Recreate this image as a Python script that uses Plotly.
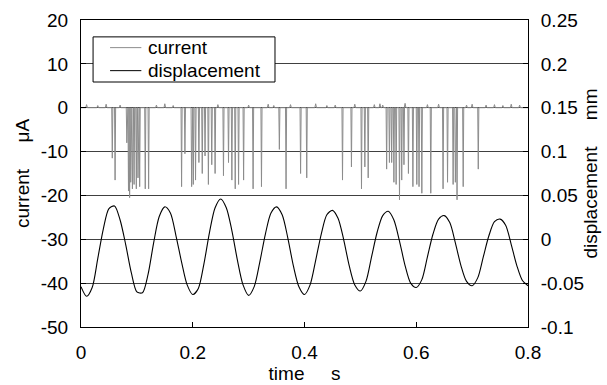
import plotly.graph_objects as go

# ---------------- data ----------------
# displacement (mm), sampled every 0.01 s
disp_t = [round(i * 0.01, 2) for i in range(81)]
disp_mm = [
    -0.054, -0.065, -0.055, -0.022, 0.012, 0.035, 0.038, 0.022, -0.006, -0.038,
    -0.060, -0.061, -0.040, -0.004, 0.026, 0.037, 0.030, 0.004, -0.026, -0.052,
    -0.063, -0.056, -0.028, 0.008, 0.036, 0.046, 0.036, 0.010, -0.024, -0.052,
    -0.064, -0.054, -0.026, 0.006, 0.030, 0.037, 0.028, 0.002, -0.030, -0.054,
    -0.063, -0.052, -0.024, 0.006, 0.028, 0.033, 0.024, 0.000, -0.030, -0.052,
    -0.059, -0.048, -0.020, 0.008, 0.027, 0.032, 0.022, -0.002, -0.030, -0.050,
    -0.055, -0.046, -0.020, 0.006, 0.023, 0.027, 0.019, -0.004, -0.030, -0.048,
    -0.053, -0.044, -0.020, 0.004, 0.020, 0.023, 0.016, -0.006, -0.030, -0.047,
    -0.053,
]

# current (uA): baseline level plus downward spikes
current_baseline = 0.0
spike_t = [
    0.056, 0.061, 0.082, 0.085, 0.087, 0.089, 0.092, 0.095, 0.099, 0.102, 0.105, 0.115, 0.121,
    0.180, 0.186, 0.198, 0.201, 0.205, 0.211, 0.217, 0.222, 0.228, 0.234, 0.240,
    0.255, 0.264, 0.270, 0.276, 0.282, 0.291,
    0.308, 0.323, 0.355, 0.367, 0.393, 0.404,
    0.468, 0.484, 0.502, 0.508, 0.514,
    0.547, 0.552, 0.556, 0.560, 0.564, 0.570, 0.574, 0.578, 0.586, 0.594, 0.601, 0.605, 0.610,
    0.626, 0.648, 0.656, 0.666, 0.670, 0.673, 0.684, 0.711,
]
spike_uA = [
    -11.5, -16.5, -8.0, -19.0, -20.5, -17.0, -18.5, -17.5, -18.5, -16.0, -18.0, -18.5, -18.5,
    -18.0, -10.5, -18.0, -17.5, -16.5, -12.5, -15.0, -11.0, -17.5, -13.0, -15.0,
    -15.5, -12.5, -16.5, -18.5, -17.5, -16.5,
    -18.5, -18.0, -9.5, -18.5, -15.0, -16.0,
    -16.5, -13.5, -18.5, -13.5, -16.0,
    -14.0, -12.5, -12.5, -17.0, -17.5, -21.0, -16.5, -13.0, -15.0, -18.0, -17.5, -18.0, -19.5,
    -19.5, -18.5, -17.0, -17.5, -17.0, -21.0, -18.0, -14.0,
]
ripple_t = [0.01, 0.03, 0.045, 0.07, 0.135, 0.15, 0.165, 0.245, 0.3, 0.335, 0.345,
            0.375, 0.42, 0.44, 0.455, 0.49, 0.525, 0.535, 0.54, 0.58, 0.62, 0.64,
            0.69, 0.7, 0.725, 0.74, 0.755, 0.77, 0.785]
ripple_uA = [0.7, 0.5, 0.8, 0.6, 0.6, 0.9, 0.5, 0.7, 0.6, 0.8, 0.5,
             0.7, 0.9, 0.5, 0.6, 0.8, 0.7, 0.9, 0.6, 1.0, 0.7, 0.8,
             0.6, 0.8, 0.6, 0.7, 0.5, 0.8, 0.6]

series_names = ["current", "displacement"]
series_colors = ["#8c8c8c", "black"]

# build current trace
events = [(t, v, 0.0010) for t, v in zip(spike_t, spike_uA)] + \
         [(t, current_baseline + v, 0.0015) for t, v in zip(ripple_t, ripple_uA)]
events.sort()
cur_x, cur_y = [0.0], [current_baseline]
for t, v, w in events:
    cur_x += [t - w, t, t + w]
    cur_y += [current_baseline, v, current_baseline]
cur_x.append(0.8)
cur_y.append(current_baseline)

x_ticks = [0, 0.2, 0.4, 0.6, 0.8]
y1_ticks = [-50, -40, -30, -20, -10, 0, 10, 20]
y2_ticks = [-0.1, -0.05, 0, 0.05, 0.1, 0.15, 0.2, 0.25]

FONT = "Liberation Sans, Arial, sans-serif"
SP = "\u00a0"

fig = go.Figure()
fig.add_trace(go.Scatter(
    x=cur_x, y=cur_y, mode="lines", name=series_names[0], showlegend=False,
    line=dict(color=series_colors[0], width=1), yaxis="y"))
fig.add_trace(go.Scatter(
    x=disp_t, y=disp_mm, mode="lines", name=series_names[1], showlegend=False,
    line=dict(color=series_colors[1], width=1.1, shape="spline", smoothing=0.8), yaxis="y2"))

# compact boxed legend (paper coordinates: plot area spans 0..1)
shapes = [dict(type="rect", xref="paper", yref="paper",
               x0=0.027, x1=0.434, y0=0.798, y1=0.945,
               line=dict(color="black", width=1), fillcolor="white", layer="above")]
annotations = []
for i, (nm, col) in enumerate(zip(series_names, series_colors)):
    yy = 0.910 - i * 0.075
    shapes.append(dict(type="line", xref="paper", yref="paper",
                       x0=0.065, x1=0.135, y0=yy, y1=yy,
                       line=dict(color=col, width=1), layer="above"))
    annotations.append(dict(text=nm, xref="paper", yref="paper", x=0.146, y=yy,
                            xanchor="left", yanchor="middle", showarrow=False,
                            font=dict(size=19, family=FONT, color="black")))

fig.update_layout(
    width=607, height=385,
    margin=dict(l=81, r=79, t=20, b=58, autoexpand=False),
    paper_bgcolor="white", plot_bgcolor="white",
    font=dict(family=FONT, size=19, color="black"),
    showlegend=False,
    shapes=shapes, annotations=annotations,
    xaxis=dict(range=[0, 0.8], tickvals=x_ticks,
               ticktext=[f"{v:g}" for v in x_ticks],
               ticks="inside", ticklen=5, tickcolor="black",
               ticklabelstandoff=8, automargin=False,
               showline=True, linecolor="black", linewidth=1, mirror=True,
               showgrid=False, zeroline=False,
               title=dict(text="time" + SP * 5 + "s", font=dict(size=19), standoff=2)),
    yaxis=dict(range=[-50, 20], tickvals=y1_ticks,
               ticktext=[str(v) for v in y1_ticks],
               ticks="inside", ticklen=5, tickcolor="black",
               ticklabelstandoff=8, automargin=False,
               showline=True, linecolor="black", linewidth=1,
               showgrid=True, gridcolor="#404040", gridwidth=1, zeroline=False,
               title=dict(text="current" + SP * 5 + "\u03bcA", font=dict(size=19), standoff=6)),
    yaxis2=dict(range=[-0.1, 0.25], tickvals=y2_ticks,
                ticktext=[f"{v:g}" for v in y2_ticks],
                overlaying="y", side="right",
                ticks="inside", ticklen=5, tickcolor="black",
                ticklabelstandoff=8, automargin=False,
                showline=True, linecolor="black", linewidth=1,
                showgrid=False, zeroline=False,
                title=dict(text="displacement" + SP * 5 + "mm", font=dict(size=19), standoff=0)),
)

fig.write_html("out.html")
